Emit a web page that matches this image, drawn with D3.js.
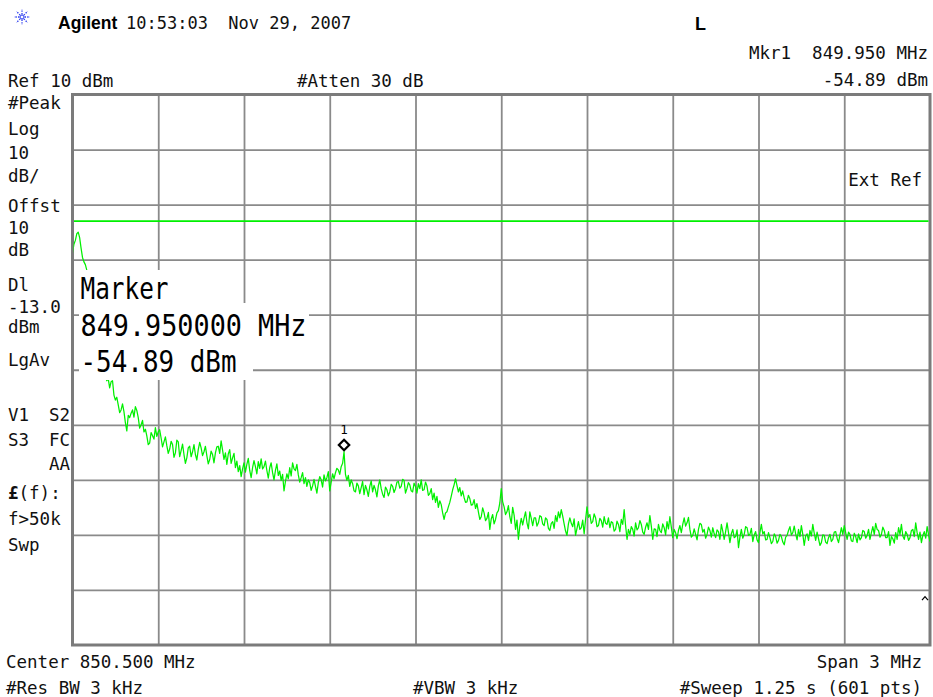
<!DOCTYPE html>
<html>
<head>
<meta charset="utf-8">
<script src="https://cdn.jsdelivr.net/npm/d3@7"></script>
<style>
  html, body { margin: 0; padding: 0; background: #fff; }
  svg { display: block; }
</style>
</head>
<body>
<svg id="chart" width="933" height="697"></svg>
<script>
// ---- Sweep settings -------------------------------------------------------
const startFreq = 849.0;      // MHz (center 850.500, span 3 MHz)
const stopFreq = 852.0;       // MHz
const freqStep = 0.005;       // MHz between trace points (601 pts)
const refLevel = 10;          // dBm, top graticule line
const bottomLevel = -90;      // dBm, 10 dB/div x 10 div
const displayLine = -13.0;    // dBm
const markerFreq = 849.95;    // MHz
const markerLevel = -54.89;   // dBm

// ---- Trace (dBm), one value every 5 kHz from 849.000 MHz -------------------
const traceLevels = [
  -18.8, -17.2, -16.5, -15.3, -15.0, -16.0, -17.9, -19.6, -20.4, -20.9,
  -21.9, -23.0, -24.6, -26.2, -27.3, -28.8, -30.6, -32.4, -33.7, -35.0,
  -36.8, -38.4, -39.7, -41.2, -42.0, -41.6, -43.3, -42.2, -42.0, -44.6,
  -45.5, -45.0, -46.4, -47.8, -47.3, -46.2, -47.6, -49.6, -51.1, -48.3,
  -48.7, -47.9, -47.3, -48.6, -46.7, -47.4, -48.7, -50.6, -50.0, -49.2,
  -51.3, -50.8, -52.0, -53.6, -53.3, -51.4, -52.0, -52.6, -50.5, -52.1,
  -51.3, -50.9, -52.4, -54.0, -53.1, -52.2, -53.8, -55.2, -54.4, -53.0,
  -53.6, -55.9, -55.1, -52.8, -53.1, -55.8, -54.7, -53.5, -55.4, -57.0,
  -56.0, -54.2, -53.9, -55.8, -54.9, -53.6, -55.4, -56.4, -54.5, -53.2,
  -54.2, -55.6, -54.9, -53.9, -55.6, -57.1, -56.3, -54.8, -55.4, -56.9,
  -55.1, -54.0, -53.9, -55.2, -52.9, -54.6, -56.3, -55.1, -57.2, -55.3,
  -54.5, -57.0, -56.0, -55.2, -57.8, -56.6, -58.5, -57.4, -59.4, -58.0,
  -56.9, -58.6, -57.2, -56.1, -58.3, -59.6, -57.8, -56.5, -57.6, -58.9,
  -56.7, -57.9, -56.2, -58.0, -57.6, -56.6, -58.3, -59.7, -57.8, -56.9,
  -58.7, -60.0, -58.3, -57.1, -59.2, -58.4, -60.1, -59.0, -62.0, -60.3,
  -58.9, -59.8, -57.8, -59.3, -56.9, -58.0, -58.3, -57.2, -59.1, -60.4,
  -59.6, -58.7, -60.7, -59.6, -61.2, -60.0, -60.5, -61.9, -61.1, -59.9,
  -61.2, -62.4, -60.5, -59.4, -60.0, -61.3, -59.1, -60.2, -59.6, -58.5,
  -62.0, -60.4, -58.9, -59.8, -58.7, -57.9, -58.2, -59.0, -57.6, -57.0,
  -54.89, -59.0, -60.1, -59.2, -61.2, -60.0, -60.7, -62.0, -62.2, -60.6,
  -61.1, -62.5, -61.4, -60.3, -62.7, -61.0, -61.8, -63.0, -61.2, -60.2,
  -62.2, -61.0, -61.8, -63.1, -61.1, -60.0, -61.6, -62.6, -63.2, -61.3,
  -61.8, -62.9, -62.2, -60.8, -61.2, -62.3, -61.6, -60.4, -60.3, -61.5,
  -61.2, -59.9, -60.1, -62.4, -61.6, -60.5, -60.9, -62.0, -62.2, -60.6,
  -61.2, -62.4, -60.7, -61.6, -60.0, -61.9, -61.8, -60.4, -61.1, -62.8,
  -62.5, -61.6, -63.6, -62.4, -64.1, -63.0, -65.0, -63.8, -64.5, -66.0,
  -67.2, -66.0, -65.8, -64.9, -64.1, -63.0, -61.8, -60.9, -59.8, -61.0,
  -62.2, -61.4, -62.9, -62.0, -63.2, -64.1, -64.0, -62.8, -63.4, -64.6,
  -64.5, -63.6, -65.2, -64.3, -65.8, -67.2, -66.7, -65.1, -66.0, -67.4,
  -67.0, -65.9, -69.0, -67.1, -66.3, -68.0, -67.2, -66.0, -65.6, -64.2,
  -61.6, -64.0, -64.9, -66.3, -65.8, -64.7, -66.7, -67.9, -65.0, -66.4,
  -69.0, -67.3, -70.8, -68.4, -67.0, -68.2, -66.9, -65.8, -67.8, -68.9,
  -65.8, -67.0, -68.3, -66.9, -66.9, -68.4, -67.8, -66.5, -66.7, -68.0,
  -68.3, -66.9, -67.2, -68.8, -69.2, -67.9, -67.6, -68.8, -66.5, -67.6,
  -65.8, -66.9, -65.4, -66.6, -68.0, -69.3, -70.1, -68.0, -66.9, -67.9,
  -68.5, -67.1, -70.1, -68.8, -67.6, -69.0, -68.7, -67.3, -69.8, -67.2,
  -64.9, -66.8, -66.3, -67.9, -67.6, -66.2, -66.9, -68.5, -68.3, -67.0,
  -67.4, -68.6, -66.7, -67.9, -68.1, -66.9, -68.7, -67.6, -67.8, -69.3,
  -69.0, -67.5, -68.1, -69.4, -67.2, -68.1, -65.4, -68.3, -70.8, -69.0,
  -69.9, -68.5, -69.0, -70.2, -67.8, -69.1, -68.7, -67.4, -68.1, -69.5,
  -69.9, -68.6, -67.8, -69.0, -66.5, -68.4, -70.8, -68.9, -69.0, -70.3,
  -68.1, -69.2, -69.6, -68.0, -68.7, -70.0, -67.6, -68.9, -66.7, -68.6,
  -70.5, -69.0, -69.6, -70.7, -69.2, -68.3, -69.6, -68.1, -66.9, -68.4,
  -67.8, -66.8, -69.0, -70.4, -70.1, -68.9, -69.9, -70.9, -69.0, -67.9,
  -68.1, -69.5, -69.0, -70.6, -69.9, -68.6, -69.2, -70.4, -68.7, -69.8,
  -70.5, -69.1, -69.4, -70.8, -68.1, -69.3, -70.8, -69.4, -67.8, -69.6,
  -71.4, -69.8, -69.0, -70.5, -70.3, -69.1, -72.3, -70.4, -69.0, -70.6,
  -69.9, -68.5, -68.7, -70.1, -69.9, -68.8, -71.2, -70.0, -69.4, -70.9,
  -71.4, -69.6, -68.1, -69.8, -69.4, -70.9, -70.8, -69.6, -70.5, -71.6,
  -71.2, -69.8, -70.3, -71.5, -71.0, -69.9, -70.3, -71.3, -71.8, -70.4,
  -70.1, -69.2, -68.5, -70.0, -69.6, -68.4, -69.8, -70.9, -69.0, -70.3,
  -68.3, -69.9, -71.9, -70.2, -69.8, -71.0, -69.2, -70.2, -68.1, -69.7,
  -71.0, -69.5, -70.7, -71.9, -71.4, -70.0, -70.1, -71.3, -71.6, -70.5,
  -69.9, -71.2, -70.8, -69.5, -69.4, -70.6, -71.4, -70.0, -68.7, -69.9,
  -68.3, -69.6, -70.8, -69.5, -69.9, -71.1, -71.2, -69.7, -70.3, -71.4,
  -69.8, -70.9, -70.5, -69.2, -69.4, -70.6, -70.1, -69.0, -70.8, -69.6,
  -68.5, -69.9, -67.9, -69.0, -69.2, -70.4, -69.9, -68.6, -69.2, -70.5,
  -70.5, -69.4, -71.9, -70.3, -70.7, -71.5, -69.6, -70.8, -68.7, -69.9,
  -68.1, -70.2, -70.8, -69.4, -69.9, -71.0, -70.5, -69.2, -69.0, -70.3,
  -67.8, -69.6, -70.8, -69.5, -71.4, -70.1, -69.4, -70.6, -68.5, -70.0,
  -71.2
];

// ---- Annotation texts --------------------------------------------------------
const headerBrand = "Agilent";
const headerStamp = "10:53:03  Nov 29, 2007";
const headerFlag = "L";
const markerReadout = ["Mkr1  849.950 MHz", "-54.89 dBm"];
const refText = "Ref 10 dBm";
const attenText = "#Atten 30 dB";
const sideLabels = ["#Peak", "Log", "10", "dB/", "Offst", "10", "dB", "Dl", "-13.0", "dBm", "LgAv"];
const sidePairs = [["V1", "S2"], ["S3", "FC"], ["", "AA"]];
const sideLower = ["(f):", "f>50k", "Swp"];
const extRefText = "Ext Ref";
const markerBox = ["Marker", "849.950000 MHz", "-54.89 dBm"];
const markerId = "1";
const footerTop = ["Center 850.500 MHz", "Span 3 MHz"];
const footerBottom = ["#Res BW 3 kHz", "#VBW 3 kHz", "#Sweep 1.25 s (601 pts)"];

// ---- Layout -------------------------------------------------------------------
const W = 933, H = 697;
const plot = { left: 72.5, right: 930, top: 94.5, bottom: 645 };
const mono = "'DejaVu Sans Mono', monospace";
const sans = "'Liberation Sans', Arial, sans-serif";
const txtSize = 17.5;
const gridColor = "#8a8a8a";
const traceColor = "#00f000";

const svg = d3.select("#chart");
svg.append("rect").attr("width", W).attr("height", H).attr("fill", "#fff");

const x = d3.scaleLinear().domain([startFreq, stopFreq]).range([plot.left, plot.right]);
const y = d3.scaleLinear().domain([bottomLevel, refLevel]).range([plot.bottom, plot.top]);

// ---- Graticule ----------------------------------------------------------------
const xTicks = d3.range(1, 10).map(k => startFreq + k * (stopFreq - startFreq) / 10);
const yTicks = d3.range(1, 10).map(k => bottomLevel + k * (refLevel - bottomLevel) / 10);

const gx = svg.append("g")
  .attr("transform", `translate(0,${plot.bottom})`)
  .call(d3.axisBottom(x).tickValues(xTicks).tickFormat("")
    .tickSizeInner(-(plot.bottom - plot.top)).tickSizeOuter(0));
const gy = svg.append("g")
  .attr("transform", `translate(${plot.left},0)`)
  .call(d3.axisLeft(y).tickValues(yTicks).tickFormat("")
    .tickSizeInner(-(plot.right - plot.left)).tickSizeOuter(0));
[gx, gy].forEach(g => {
  g.select(".domain").remove();
  g.selectAll(".tick line").attr("stroke", gridColor).attr("stroke-width", 1.8);
});

svg.append("rect")
  .attr("x", plot.left).attr("y", plot.top)
  .attr("width", plot.right - plot.left).attr("height", plot.bottom - plot.top)
  .attr("fill", "none").attr("stroke", "#7b7b7b").attr("stroke-width", 3);

// ---- Display line ---------------------------------------------------------------
svg.append("line")
  .attr("x1", plot.left + 1.5).attr("x2", plot.right - 1.5)
  .attr("y1", y(displayLine)).attr("y2", y(displayLine))
  .attr("stroke", traceColor).attr("stroke-width", 1.6);

// ---- Trace ---------------------------------------------------------------------
const traceData = traceLevels.map((v, i) => ({ f: startFreq + i * freqStep, v }));
svg.append("defs").append("clipPath").attr("id", "plotClip")
  .append("rect").attr("x", plot.left + 1).attr("y", plot.top)
  .attr("width", plot.right - plot.left - 1).attr("height", plot.bottom - plot.top);
svg.append("path")
  .datum(traceData)
  .attr("clip-path", "url(#plotClip)")
  .attr("fill", "none")
  .attr("stroke", traceColor)
  .attr("stroke-width", 1.25)
  .attr("stroke-linejoin", "round")
  .attr("d", d3.line().x(d => x(d.f)).y(d => y(d.v)));

// ---- Marker diamond and number ------------------------------------------------------
const mx = x(markerFreq), my = y(markerLevel);
const dm = 5.2;
svg.append("path")
  .attr("d", `M${mx},${my - 1.5 - 2 * dm} L${mx + dm},${my - 1.5 - dm} L${mx},${my - 1.5} L${mx - dm},${my - 1.5 - dm} Z`)
  .attr("fill", "none").attr("stroke", "#000").attr("stroke-width", 2.2);
svg.append("text")
  .attr("x", mx).attr("y", my - 17.5)
  .attr("text-anchor", "middle")
  .attr("font-family", mono).attr("font-size", 12.5).attr("fill", "#000")
  .text(markerId);

// ---- Marker readout box (white backed lines of large text) ----------------------------
const boxRows = [
  { top: 270, bottom: 303, right: 180, base: 299, len: 88 },
  { top: 303, bottom: 341, right: 309, base: 336, len: 226 },
  { top: 341, bottom: 380, right: 253, base: 371.5, len: 156 }
];
boxRows.forEach((r, i) => {
  svg.append("rect")
    .attr("x", plot.left + 6.5).attr("y", r.top)
    .attr("width", r.right - plot.left - 6.5).attr("height", r.bottom - r.top)
    .attr("fill", "#fff");
  svg.append("text")
    .attr("x", 80.5).attr("y", r.base)
    .attr("font-family", mono).attr("font-size", 31)
    .attr("textLength", r.len).attr("lengthAdjust", "spacingAndGlyphs")
    .attr("fill", "#000")
    .text(markerBox[i]);
});

// ---- Text helpers -----------------------------------------------------------------------
function label(txt, tx, ty, opts = {}) {
  return svg.append("text")
    .attr("x", tx).attr("y", ty)
    .attr("font-family", opts.family || mono)
    .attr("font-size", opts.size || txtSize)
    .attr("font-weight", opts.weight || "normal")
    .attr("text-anchor", opts.anchor || "start")
    .attr("fill", opts.fill || "#111")
    .style("white-space", "pre")
    .text(txt);
}

// ---- Header ------------------------------------------------------------------------------
const logo = svg.append("g").attr("transform", "translate(22,17)");
d3.range(8).forEach(k => {
  const a = k * Math.PI / 4;
  logo.append("line")
    .attr("x1", 0).attr("y1", 0)
    .attr("x2", 8 * Math.cos(a)).attr("y2", 8 * Math.sin(a))
    .attr("stroke", "#2b3cf0").attr("stroke-width", 1.3)
    .attr("stroke-dasharray", "1.4,1.2");
});
logo.append("circle").attr("r", 2).attr("fill", "#fff").attr("stroke", "#2b3cf0").attr("stroke-width", 1);

label(headerBrand, 58, 29, { family: sans, weight: "bold", size: 17.5, fill: "#000" });
label(headerStamp, 126, 29, { size: 17 });
label(headerFlag, 695, 30, { family: sans, weight: "bold", size: 18, fill: "#000" });
label(markerReadout[0], 928, 59, { anchor: "end" });
label(markerReadout[1], 928, 86, { anchor: "end" });
label(refText, 8, 87);
label(attenText, 297, 87);

// ---- Left settings column ---------------------------------------------------------------
const sideBase = [109, 135, 159, 182, 212, 234, 256, 291, 313, 333, 366];
sideLabels.forEach((t, i) => label(t, 8, sideBase[i]));
const pairBase = [421, 446, 470];
sidePairs.forEach((p, i) => {
  if (p[0]) label(p[0], 8, pairBase[i]);
  label(p[1], 70, pairBase[i], { anchor: "end" });
});
const lowerBase = [499, 525, 551];
sideLower.forEach((t, i) => {
  const node = label("", 8, lowerBase[i]);
  if (i === 0) node.append("tspan").attr("font-weight", "bold").text("£");
  node.append("tspan").text(t);
});

// ---- Inside-graticule annotations ----------------------------------------------------------
label(extRefText, 922, 186, { anchor: "end" });
svg.append("path")
  .attr("d", `M${plot.right - 8},${y(-81.3) + 3} l3,-3.5 l3,3.5`)
  .attr("fill", "none").attr("stroke", "#000").attr("stroke-width", 1.2);

// ---- Footer --------------------------------------------------------------------------------
label(footerTop[0], 6, 668);
label(footerTop[1], 922, 668, { anchor: "end" });
label(footerBottom[0], 6, 694);
label(footerBottom[1], 413, 694);
label(footerBottom[2], 922, 694, { anchor: "end" });
</script>
</body>
</html>
